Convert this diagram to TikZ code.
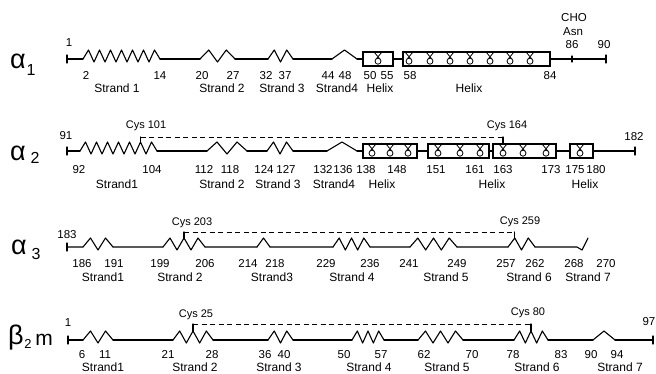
\documentclass[tikz,border=0pt]{standalone}
\usepackage{fontspec}
\setmainfont{Liberation Sans}
\usetikzlibrary{positioning}

\tikzset{
  bb/.style={line width=1.1pt, line cap=round, line join=round},
  hbox/.style={line width=1.4pt},
  hloop/.style={line width=0.8pt},
  disulf/.style={line width=0.9pt, dash pattern=on 5pt off 3.5pt},
  num/.style={font=\fontsize{11.5}{12}\selectfont, inner sep=0pt, text height=8.2pt, text depth=0pt},
  lbl/.style={font=\fontsize{12}{13}\selectfont, inner sep=0pt, text height=8.6pt, text depth=0pt},
  cys/.style={font=\fontsize{11}{12}\selectfont, inner sep=0pt, text height=7.9pt, text depth=0pt},
  chainlbl/.style={font=\fontsize{27}{28}\selectfont, inner sep=0pt},
  chainsub/.style={font=\fontsize{16}{17}\selectfont, inner sep=0pt},
}

% zigzag strand: from x #1 to x #2, #3 peaks, on line #4
\newcommand{\zigstrand}[4]{%
  \pgfmathtruncatemacro{\nz}{2*#3}
  \draw[bb] (#1,#4) \foreach \j in {1,...,\nz} {
    -- ({#1+\j*(#2-#1)/\nz},{ifthenelse(isodd(\j),#4-9,#4+3*(\j<\nz))})};
}
% helix box: from x #1 to x #2 on line #3, loops at #4
\newcommand{\helixbox}[4]{%
  \draw[hbox] (#1,#3-7) rectangle (#2,#3+7);
  \foreach \lx in {#4} {
    \draw[hloop] (\lx-4,#3-7) -- (\lx+1.5,#3-0.5) (\lx+4,#3-7) -- (\lx-1.5,#3-0.5);
    \draw[hloop] (\lx,#3+2.2) circle[radius=3];
  }
}

\begin{document}
\begin{tikzpicture}[x=1pt, y=-1pt]
  \useasboundingbox (0,0) rectangle (656,373);

  % ---------- alpha 1 ----------
  \node[chainlbl] (a1) at (18,61) {α};
  \node[chainsub] (a1i) at (31,70) {1};
  \draw[bb] (67,55) -- (67,63);
  \draw[bb] (67,59) -- (83,59) (160,59) -- (200,59) (235,59) -- (268,59)
    (293,59) -- (332,59) (357,59) -- (363,59) (393,59) -- (403,59) (550,59) -- (606,59);
  \zigstrand{83}{160}{7}{59}
  \zigstrand{200}{235}{2}{59}
  \zigstrand{268}{293}{2}{59}
  \zigstrand{332}{357}{1}{59}
  \helixbox{363}{393}{59}{378}
  \helixbox{403}{550}{59}{409,430,450,470,490,510,530}
  \draw[bb] (572,56) -- (572,62);
  \draw[bb] (606,55) -- (606,63);
  \node[num] (a1top) at (69,42) {1};
  \node[num] (a1cho) at (574,17) {CHO};
  \node[num] (a1asn) at (573,31) {Asn};
  \node[num] (a1p86) at (572,44) {86};
  \node[num] (a1p90) at (604,44) {90};
  \foreach \x/\t [count=\i] in {86/2, 160/14, 202/20, 233/27, 266/32, 285/37,
      328/44, 345/48, 370/50, 387/55, 410/58, 550/84}
    \node[num] (a1n\i) at (\x,75) {\t};
  \foreach \x/\t [count=\i] in {117/Strand 1, 222/Strand 2, 282/Strand 3,
      337/Strand4, 380/Helix, 469/Helix}
    \node[lbl] (a1s\i) at (\x,88) {\t};

  % ---------- alpha 2 ----------
  \node[chainlbl] (a2) at (18,153) {α};
  \node[chainsub] (a2i) at (35,158) {2};
  \draw[bb] (67,147) -- (67,155);
  \draw[bb] (67,151) -- (80,151) (157,151) -- (207,151) (247,151) -- (267,151)
    (293,151) -- (327,151) (357,151) -- (363,151) (417,151) -- (428,151)
    (489,151) -- (493,151) (556,151) -- (570,151) (593,151) -- (635,151);
  \zigstrand{80}{157}{7}{151}
  \zigstrand{207}{247}{2}{151}
  \zigstrand{267}{293}{2}{151}
  \zigstrand{327}{357}{1}{151}
  \helixbox{363}{417}{151}{372,390,408}
  \helixbox{428}{489}{151}{438,460,480}
  \helixbox{493}{556}{151}{503,523,546}
  \helixbox{570}{593}{151}{580}
  \draw[bb] (635,147) -- (635,155);
  % disulfide 101-164
  \coordinate (c101) at (140.5,142);
  \coordinate (c101u) at (140.5,137);
  \coordinate (c164) at (503,144);
  \coordinate (c164u) at (503,137);
  \draw[bb] (c101) -- (c101u);
  \draw[disulf] (c101u) -- (c164u);
  \draw[bb] (c164u) -- (c164);
  \node[cys] (cys101) at (146,125) {Cys 101};
  \node[cys] (cys164) at (507,125) {Cys 164};
  \node[num] (a2top) at (66,135) {91};
  \node[num] (a2end) at (634,136) {182};
  \foreach \x/\t [count=\i] in {79/92, 152/104, 204/112, 230/118, 264/124, 286/127,
      323/132, 343/136, 366/138, 397/148, 436/151, 475/161, 503/163,
      551/173, 575/175, 596/180}
    \node[num] (a2n\i) at (\x,169) {\t};
  \foreach \x/\t [count=\i] in {117/Strand1, 222/Strand 2, 278/Strand 3,
      334/Strand4, 382/Helix, 492/Helix, 585/Helix}
    \node[lbl] (a2s\i) at (\x,184) {\t};

  % ---------- alpha 3 ----------
  \node[chainlbl] (a3) at (19,247) {α};
  \node[chainsub] (a3i) at (36,254) {3};
  \draw[bb] (67,243) -- (67,251);
  \draw[bb] (67,247) -- (83,247) (113,247) -- (163,247) (205,247) -- (257,247)
    (270,247) -- (333,247) (370,247) -- (410,247) (457,247) -- (508,247)
    (535,247) -- (577,247) -- (582,250) -- (588,238);
  \zigstrand{83}{113}{2}{247}
  \zigstrand{163}{205}{3}{247}
  \zigstrand{257}{270}{1}{247}
  \zigstrand{333}{370}{3}{247}
  \zigstrand{410}{457}{3}{247}
  \zigstrand{508}{535}{2}{247}
  % disulfide 203-259
  \coordinate (c203) at (184,238);
  \coordinate (c203u) at (184,232);
  \coordinate (c259) at (514.75,238);
  \coordinate (c259u) at (514.75,232);
  \draw[bb] (c203) -- (c203u);
  \draw[disulf] (c203u) -- (c259u);
  \draw[bb] (c259u) -- (c259);
  \node[cys] (cys203) at (192,222) {Cys 203};
  \node[cys] (cys259) at (520,221) {Cys 259};
  \node[num] (a3top) at (67,234) {183};
  \foreach \x/\t [count=\i] in {82/186, 114/191, 160/199, 205/206, 248/214, 275/218,
      326/229, 370/236, 409/241, 457/249, 506/257, 535/262, 574/268, 606/270}
    \node[num] (a3n\i) at (\x,263) {\t};
  \foreach \x/\t [count=\i] in {103/Strand1, 180/Strand 2, 272/Strand3,
      352/Strand 4, 446/Strand 5, 529/Strand 6, 588/Strand 7}
    \node[lbl] (a3s\i) at (\x,277) {\t};

  % ---------- beta 2 m ----------
  \node[chainlbl] (b2) at (16,338) {β};
  \node[chainsub, font=\fontsize{13}{14}\selectfont] (b2i) at (28,344) {2};
  \node[chainsub, font=\fontsize{21}{22}\selectfont] (b2m) at (44,340) {m};
  \draw[bb] (68,336) -- (68,344);
  \draw[bb] (68,340) -- (83,340) (113,340) -- (173,340) (213,340) -- (268,340)
    (293,340) -- (352,340) (384,340) -- (418,340) (463,340) -- (514,340)
    (548,340) -- (593,340) (615,340) -- (653,340);
  \zigstrand{83}{113}{2}{340}
  \zigstrand{173}{213}{3}{340}
  \zigstrand{268}{293}{2}{340}
  \zigstrand{352}{384}{3}{340}
  \zigstrand{418}{463}{3}{340}
  \zigstrand{514}{548}{3}{340}
  \zigstrand{593}{615}{1}{340}
  \draw[bb] (653,336) -- (653,344);
  % disulfide 25-80
  \coordinate (c25) at (193,331);
  \coordinate (c25u) at (193,324);
  \coordinate (c80) at (531,331);
  \coordinate (c80u) at (531,324);
  \draw[bb] (c25) -- (c25u);
  \draw[disulf] (c25u) -- (c80u);
  \draw[bb] (c80u) -- (c80);
  \node[cys] (cys25) at (196,314) {Cys 25};
  \node[cys] (cys80) at (528,312) {Cys 80};
  \node[num] (b2top) at (68,322) {1};
  \node[num, anchor=east] (b2end) at (655.5,321) {97};
  \foreach \x/\t [count=\i] in {82/6, 105/11, 168/21, 212/28, 265/36, 284/40,
      344/50, 381/57, 424/62, 472/70, 513/78, 561/83, 591/90, 617/94}
    \node[num] (b2n\i) at (\x,354) {\t};
  \foreach \x/\t [count=\i] in {103/Strand1, 195/Strand 2, 279/Strand 3,
      369/Strand 4, 447/Strand 5, 537/Strand 6, 620/Strand 7}
    \node[lbl] (b2s\i) at (\x,367) {\t};
\end{tikzpicture}
\end{document}
